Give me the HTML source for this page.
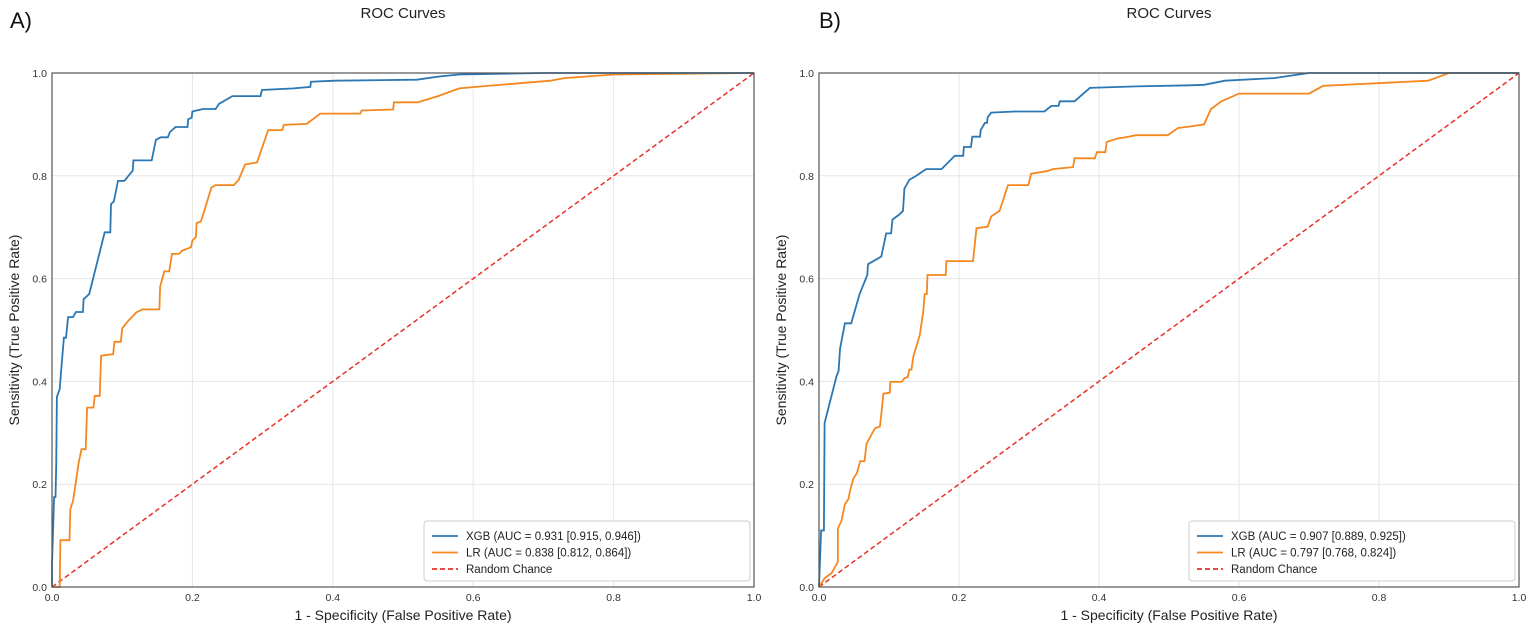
<!DOCTYPE html>
<html><head><meta charset="utf-8"><style>
body{margin:0;background:#fff;}
svg{display:block;font-family:"Liberation Sans","DejaVu Sans",sans-serif;}
</style></head><body>
<svg id="c" width="1535" height="632"></svg>
<script>
const ticks=[0,0.2,0.4,0.6,0.8,1.0];
const tickLabels=["0.0","0.2","0.4","0.6","0.8","1.0"];
const panelLetters=["A)","B)"];
const xgbLabels=["XGB (AUC = 0.931 [0.915, 0.946])","XGB (AUC = 0.907 [0.889, 0.925])"];
const lrLabels=["LR (AUC = 0.838 [0.812, 0.864])","LR (AUC = 0.797 [0.768, 0.824])"];
const xgbA_x=[0,0,0.003,0.005,0.006,0.007,0.011,0.013,0.017,0.02,0.023,0.03,0.034,0.044,0.045,0.053,0.075,0.083,0.084,0.088,0.094,0.103,0.115,0.116,0.142,0.148,0.155,0.165,0.168,0.176,0.193,0.194,0.199,0.2,0.215,0.233,0.238,0.257,0.297,0.299,0.344,0.368,0.369,0.403,0.52,0.55,0.58,0.7,1];
const xgbA_y=[0,0.045,0.175,0.175,0.235,0.37,0.385,0.42,0.485,0.485,0.525,0.525,0.535,0.535,0.56,0.57,0.69,0.69,0.745,0.75,0.79,0.79,0.81,0.83,0.83,0.87,0.875,0.875,0.885,0.895,0.895,0.91,0.913,0.925,0.93,0.93,0.94,0.955,0.955,0.967,0.97,0.973,0.983,0.985,0.987,0.993,0.997,1,1];
const lrA_x=[0,0.011,0.012,0.025,0.026,0.03,0.034,0.038,0.042,0.048,0.05,0.059,0.061,0.068,0.07,0.087,0.089,0.098,0.1,0.108,0.12,0.129,0.153,0.154,0.16,0.167,0.171,0.181,0.185,0.198,0.2,0.205,0.206,0.212,0.217,0.227,0.233,0.259,0.266,0.275,0.292,0.308,0.328,0.33,0.363,0.382,0.439,0.441,0.486,0.487,0.521,0.55,0.58,0.62,0.71,0.73,0.8,1];
const lrA_y=[0,0,0.091,0.091,0.151,0.168,0.205,0.242,0.268,0.268,0.349,0.349,0.372,0.372,0.45,0.453,0.477,0.477,0.503,0.517,0.534,0.54,0.54,0.584,0.614,0.614,0.648,0.648,0.654,0.661,0.674,0.681,0.708,0.711,0.732,0.777,0.782,0.782,0.792,0.822,0.826,0.889,0.889,0.899,0.901,0.921,0.921,0.927,0.929,0.943,0.943,0.955,0.97,0.975,0.985,0.99,0.997,1];
const xgbB_x=[0,0.003,0.007,0.008,0.025,0.028,0.03,0.037,0.046,0.058,0.069,0.07,0.089,0.096,0.103,0.105,0.115,0.12,0.122,0.129,0.139,0.153,0.175,0.194,0.206,0.207,0.217,0.219,0.23,0.231,0.237,0.24,0.241,0.246,0.28,0.322,0.332,0.342,0.344,0.365,0.387,0.453,0.53,0.55,0.58,0.65,0.7,1];
const xgbB_y=[0,0.11,0.11,0.319,0.41,0.42,0.463,0.513,0.513,0.57,0.607,0.628,0.643,0.688,0.688,0.715,0.725,0.732,0.775,0.792,0.8,0.813,0.813,0.839,0.839,0.856,0.856,0.876,0.876,0.889,0.903,0.903,0.914,0.923,0.925,0.925,0.936,0.936,0.945,0.945,0.971,0.974,0.976,0.977,0.985,0.99,1,1];
const lrB_x=[0,0.008,0.018,0.025,0.027,0.027,0.032,0.037,0.042,0.044,0.049,0.054,0.059,0.065,0.068,0.08,0.087,0.089,0.092,0.101,0.102,0.118,0.122,0.127,0.129,0.132,0.135,0.144,0.149,0.151,0.154,0.155,0.181,0.182,0.22,0.225,0.241,0.246,0.258,0.27,0.299,0.303,0.325,0.334,0.363,0.365,0.394,0.397,0.409,0.411,0.425,0.442,0.453,0.498,0.513,0.53,0.55,0.56,0.575,0.6,0.7,0.72,0.87,0.9,1];
const lrB_y=[0,0.017,0.027,0.044,0.05,0.114,0.128,0.161,0.171,0.185,0.211,0.221,0.245,0.245,0.279,0.309,0.312,0.336,0.376,0.378,0.399,0.399,0.406,0.409,0.423,0.423,0.45,0.49,0.537,0.57,0.57,0.607,0.607,0.634,0.634,0.698,0.701,0.721,0.732,0.782,0.782,0.804,0.809,0.813,0.817,0.834,0.834,0.846,0.846,0.866,0.872,0.876,0.879,0.879,0.893,0.896,0.9,0.93,0.945,0.96,0.96,0.975,0.985,1,1];
const panels=[{x0:52,x1:754,lx:10,xs:[xgbA_x,lrA_x],ys:[xgbA_y,lrA_y]},{x0:819,x1:1519,lx:819,xs:[xgbB_x,lrB_x],ys:[xgbB_y,lrB_y]}];
const Y0=587,Y1=73;
const svg=document.getElementById('c');
const NS='http://www.w3.org/2000/svg';
function mk(tag,attrs,parent,text){const e=document.createElementNS(NS,tag);for(const k in attrs)e.setAttribute(k,attrs[k]);if(text!==undefined)e.textContent=text;(parent||svg).appendChild(e);return e;}
panels.forEach((p,pi)=>{
  const sx=v=>p.x0+v*(p.x1-p.x0);
  const sy=v=>Y0-v*(Y0-Y1);
  const g=mk('g',{});
  
  
  ticks.forEach((t,i)=>{
    const gx=mk('line',{x1:sx(t),x2:sx(t),y1:Y1,y2:Y0,stroke:'#e6e6e6','stroke-width':1},g);
    
    
    const gy=mk('line',{x1:p.x0,x2:p.x1,y1:sy(t),y2:sy(t),stroke:'#e6e6e6','stroke-width':1},g);
    
    
    const tx=mk('text',{x:sx(t),y:Y0+14,'font-size':10.5,'text-anchor':'middle',fill:'#333'},g,tickLabels[i]);
    
    
    const ty=mk('text',{x:p.x0-5,y:sy(t)+4,'font-size':10.5,'text-anchor':'end',fill:'#333'},g,tickLabels[i]);
    
    
  });
  const diag=mk('line',{x1:sx(0),y1:sy(0),x2:sx(1),y2:sy(1),stroke:'#e8302a','stroke-width':1.5,'stroke-dasharray':'5,3'},g);
  
  
  const cols=['#2a77b4','#f5871f'];
  const names=['xgb-roc-curve','lr-roc-curve'];
  [1,0].forEach(s=>{
    const d=p.xs[s].map((v,i)=>(i?'L':'M')+sx(v).toFixed(1)+','+sy(p.ys[s][i]).toFixed(1)).join('');
    const pa=mk('path',{d:d,fill:'none',stroke:cols[s],'stroke-width':1.8},g);
    
    
  });
  const fr=mk('rect',{x:p.x0,y:Y1,width:p.x1-p.x0,height:Y0-Y1,fill:'none',stroke:'#555','stroke-width':1.2},g);
  
  
  const cx=(p.x0+p.x1)/2;
  const ti=mk('text',{x:cx,y:18,'font-size':15,'text-anchor':'middle',fill:'#222'},g,'ROC Curves');
  
  
  const pl=mk('text',{x:p.lx,y:28,'font-size':22,fill:'#111'},g,panelLetters[pi]);
  
  
  const xl=mk('text',{x:cx,y:620,'font-size':14,'text-anchor':'middle',fill:'#222'},g,'1 - Specificity (False Positive Rate)');
  
  
  const yx=p.x0-33;
  const yl=mk('text',{x:yx,y:330,'font-size':14,'text-anchor':'middle',fill:'#222',transform:'rotate(-90 '+yx+' 330)'},g,'Sensitivity (True Positive Rate)');
  
  
  const lx=p.x1-330;
  const lg=mk('g',{},g);
  
  
  mk('rect',{x:lx,y:521,width:326,height:60,rx:3,fill:'#fff',stroke:'#ccc'},lg);
  const labs=[xgbLabels[pi],lrLabels[pi],'Random Chance'];
  const lcols=['#2a77b4','#f5871f','#e8302a'];
  labs.forEach((t,i)=>{
    const yy=536+i*16.5;
    const ll=mk('line',{x1:lx+8,x2:lx+34,y1:yy,y2:yy,stroke:lcols[i],'stroke-width':1.8,'stroke-dasharray':i==2?'5,3':'none'},lg);
    
    
    const lt=mk('text',{x:lx+42,y:yy+4,'font-size':11.5,fill:'#222'},lg,t);
    
    
  });
});
</script>
</body></html>
